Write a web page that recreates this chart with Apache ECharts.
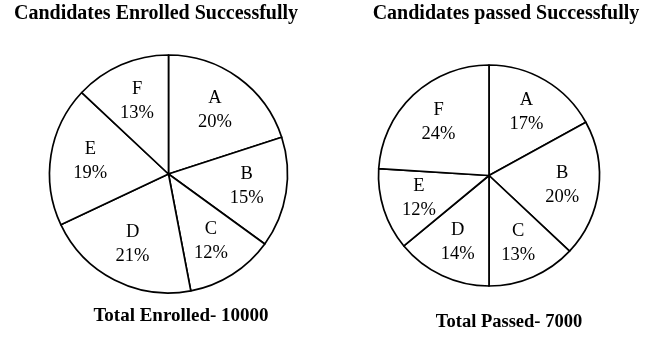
<!DOCTYPE html>
<html>
<head>
<meta charset="utf-8">
<script src="https://cdn.jsdelivr.net/npm/echarts@6/dist/echarts.min.js"></script>
<style>
  html, body { margin: 0; padding: 0; background: #fff; }
  #chart { width: 649px; height: 363px; }
</style>
</head>
<body>
<div id="chart"></div>
<script>
// Data
const categories = ['A', 'B', 'C', 'D', 'E', 'F'];
const enrolledPct = [20, 15, 12, 21, 19, 13];
const passedPct = [17, 20, 13, 14, 12, 24];
const titles = ['Candidates Enrolled Successfully', 'Candidates passed Successfully'];
const footers = ['Total Enrolled- 10000', 'Total Passed- 7000'];

const FONT = "'Liberation Serif', 'DejaVu Serif', serif";

function toData(vals) {
  return categories.map((c, i) => ({ name: c, value: vals[i] }));
}

function pieSeries(vals, center, r) {
  return [
    {
      type: 'pie',
      center: center,
      radius: [0, r],
      startAngle: 90,
      clockwise: true,
      silent: true,
      animation: false,
      label: { show: false },
      labelLine: { show: false },
      itemStyle: { color: '#ffffff', borderColor: '#000000', borderWidth: 1.7 },
      data: toData(vals)
    },
    {
      type: 'pie',
      center: center,
      radius: [0, r * 1.28],
      startAngle: 90,
      clockwise: true,
      silent: true,
      animation: false,
      z: 3,
      itemStyle: { color: 'rgba(0,0,0,0)', borderWidth: 0 },
      label: {
        show: true,
        position: 'inside',
        formatter: '{b}\n{c}%',
        color: '#000',
        fontFamily: FONT,
        fontSize: 18.5,
        lineHeight: 24
      },
      labelLine: { show: false },
      data: toData(vals)
    }
  ];
}

const chart = echarts.init(document.getElementById('chart'), null, { renderer: 'canvas' });
chart.setOption({
  backgroundColor: '#ffffff',
  title: [
    { text: titles[0], left: 151, top: -1, textAlign: 'center',
      textStyle: { fontFamily: FONT, fontWeight: 'bold', fontSize: 20, color: '#000' } },
    { text: titles[1], left: 501, top: -1, textAlign: 'center',
      textStyle: { fontFamily: FONT, fontWeight: 'bold', fontSize: 20, color: '#000' } },
    { text: footers[0], left: 176, top: 302, textAlign: 'center',
      textStyle: { fontFamily: FONT, fontWeight: 'bold', fontSize: 19, color: '#000' } },
    { text: footers[1], left: 504, top: 308, textAlign: 'center',
      textStyle: { fontFamily: FONT, fontWeight: 'bold', fontSize: 18.5, color: '#000' } }
  ],
  series: [].concat(
    pieSeries(enrolledPct, [168.5, 174], 119),
    pieSeries(passedPct, [489, 175.5], 110.5)
  )
});
</script>
</body>
</html>
